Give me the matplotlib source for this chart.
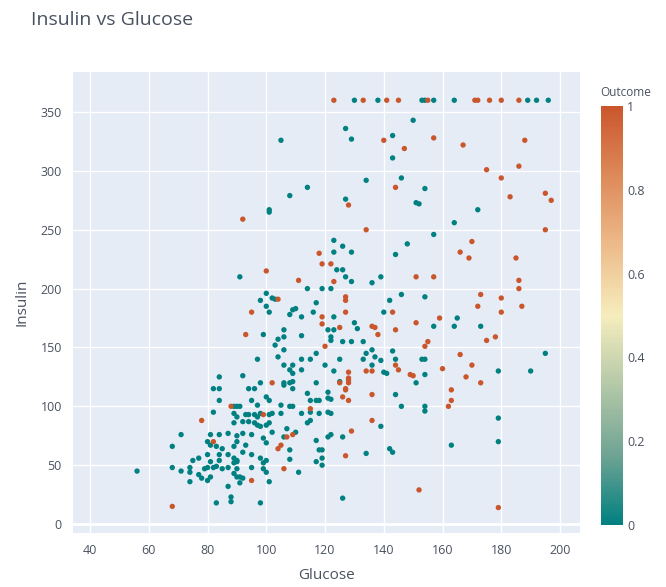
import numpy as np
import matplotlib
matplotlib.use("Agg")
import matplotlib.pyplot as plt
from matplotlib.colors import LinearSegmentedColormap, Normalize
from matplotlib.colorbar import ColorbarBase

plt.rcParams['font.family'] = ['Open Sans', 'DejaVu Sans']

# outcome 0 (glucose, insulin)
neg_pts = [
    (130, 360), (138, 360), (153, 360), (154, 360), (157, 360), (164, 360), (189, 360), (192, 360), (196, 360),
    (105, 326), (127, 336), (129, 327), (143, 330), (143, 311), (150, 343), (134, 292), (146, 294), (154, 285),
    (114, 286), (108, 279), (127, 276), (151, 273), (152, 272), (101, 267), (172, 267),
    (164, 256), (157, 246), (148, 238), (144, 229), (126, 236), (129, 231), (126, 216), (127, 210), (129, 206),
    (136, 205), (139, 210), (142, 190), (146, 195), (154, 193), (140, 180), (165, 175), (157, 168), (164, 168),
    (173, 168), (130, 171), (131, 166), (195, 145), (179, 130), (190, 130), (153, 140), (154, 140), (154, 127),
    (151, 120), (154, 100), (154, 96), (146, 100), (144, 110), (179, 90), (179, 70), (163, 67), (139, 83),
    (142, 64), (143, 61), (134, 60), (126, 22), (126, 74),
    (126, 155), (129, 155), (133, 155), (133, 140), (134, 145), (136, 135), (136, 148), (137, 142), (139, 139),
    (143, 147), (144, 140), (140, 129), (141, 128),
    (101, 265), (91, 210), (100, 196), (123, 241), (123, 231), (124, 216), (119, 200), (122, 200), (114, 200),
    (98, 190), (102, 192), (103, 191), (117, 188), (100, 185), (101, 180), (109, 182), (110, 183), (108, 178),
    (112, 176), (116, 180), (123, 176), (121, 165), (123, 165), (106, 165), (99, 161), (112, 160), (104, 157),
    (106, 159), (122, 159), (122, 156), (103, 152), (106, 148), (117, 145), (104, 142), (97, 140), (112, 140),
    (115, 140), (125, 140), (106, 135), (109, 135), (120, 135), (108, 131), (109, 128), (112, 131), (123, 130),
    (84, 125), (92, 126), (98, 120), (106, 120), (109, 121), (117, 120), (125, 121), (82, 115), (84, 115),
    (94, 115), (96, 115),
    (84, 105), (82, 95), (90, 100), (89, 94), (90, 91), (71, 76), (81, 76), (84, 76), (87, 77), (90, 75),
    (80, 70), (68, 66), (81, 67), (83, 66), (85, 64), (89, 66), (84, 59), (87, 59), (75, 54), (77, 56),
    (80, 59), (81, 53), (84, 54), (90, 54), (68, 48), (74, 48), (74, 44), (79, 47), (80, 48), (82, 48),
    (83, 49), (85, 47), (87, 48), (89, 52), (90, 47), (56, 45), (71, 45), (77, 42), (78, 39), (80, 37),
    (74, 36), (81, 40), (87, 32), (88, 23), (88, 19), (83, 18), (90, 40), (91, 35),
    (106, 118), (108, 120), (109, 115), (100, 108), (101, 105), (95, 105), (114, 111), (115, 105), (117, 105),
    (118, 105), (121, 107), (122, 106), (121, 112), (89, 100), (91, 100), (97, 101), (105, 101), (108, 100),
    (109, 100), (93, 93), (94, 93), (96, 93), (97, 91), (98, 94), (101, 93), (102, 94), (105, 94), (112, 94),
    (115, 95), (118, 94), (121, 95), (122, 94), (89, 86), (92, 87), (94, 87), (96, 86), (97, 84), (98, 83),
    (100, 84), (101, 86), (107, 81), (110, 78), (114, 86), (115, 88), (102, 78), (92, 77), (95, 76), (99, 73),
    (100, 69), (106, 74), (117, 71), (121, 74), (122, 76), (90, 70), (93, 67), (108, 63), (118, 63), (119, 63),
    (92, 61), (95, 59), (98, 56), (100, 54), (99, 52), (89, 56), (90, 53), (108, 55), (117, 53), (119, 50),
    (119, 56), (95, 48), (99, 47), (100, 44), (111, 44), (89, 43), (91, 40), (92, 39), (101, 36), (98, 18),
]

# outcome 1 (glucose, insulin)
pos_pts = [
    (123, 360), (133, 360), (141, 360), (145, 360), (155, 360), (171, 360), (172, 360), (176, 360), (180, 360),
    (186, 360),
    (140, 326), (147, 319), (157, 328), (167, 322), (188, 326), (175, 301), (186, 304), (180, 294), (144, 286),
    (128, 271), (183, 278), (195, 281), (197, 275),
    (134, 250), (195, 250), (170, 240), (166, 231), (169, 226), (185, 226), (151, 210), (157, 210), (186, 207),
    (186, 200), (187, 185), (127, 193), (127, 190), (127, 180), (173, 195), (180, 192), (172, 185), (180, 180),
    (143, 180), (159, 175), (151, 171), (136, 168), (137, 167), (138, 161), (144, 165), (155, 155), (154, 151),
    (175, 156), (178, 159), (166, 144), (170, 135), (168, 125), (173, 120), (160, 132), (149, 127), (150, 126),
    (163, 114), (163, 105), (162, 100), (136, 110), (136, 88), (129, 79), (127, 58), (152, 29), (179, 14),
    (134, 130), (136, 130), (145, 131), (144, 135), (128, 124), (128, 120), (127, 114), (126, 108), (128, 105),
    (92, 259), (100, 215), (111, 207), (118, 230), (119, 221), (122, 221), (123, 206), (104, 191), (95, 180),
    (119, 176), (119, 170), (125, 167), (93, 161), (120, 151), (128, 129), (128, 122), (102, 120), (78, 88),
    (88, 100), (82, 70), (125, 120), (127, 115), (115, 98), (99, 93), (107, 74), (109, 76), (105, 67),
    (104, 64), (106, 47), (95, 37), (68, 15),
]

glucose = np.array([p[0] for p in neg_pts] + [p[0] for p in pos_pts])
insulin = np.array([p[1] for p in neg_pts] + [p[1] for p in pos_pts])
outcome = np.array([0] * len(neg_pts) + [1] * len(pos_pts))

geyser = LinearSegmentedColormap.from_list("geyser", [
    "#008080", "#70a494", "#b4c8a8", "#f6edbd", "#edbb8a", "#de8a5a", "#ca562c"])

txt = "#4a5260"
fig = plt.figure(figsize=(6.66, 5.87), dpi=100)
ax = fig.add_axes([73 / 666, 54 / 587, 507 / 666, 461 / 587])
ax.set_facecolor("#E5ECF6")
ax.scatter(glucose, insulin, c=outcome, cmap=geyser, vmin=0, vmax=1, s=15, edgecolors="none", zorder=3)

ax.set_xlim(34.2, 206.8)
ax.set_ylim(-7.6, 384)
ax.set_xticks(range(40, 201, 20))
ax.set_yticks(range(0, 351, 50))
ax.grid(True, color="white", linewidth=1, zorder=0)
ax.axhline(0, color="white", linewidth=2, zorder=1)
ax.set_axisbelow(True)
for s in ax.spines.values():
    s.set_visible(False)
ax.tick_params(length=0, labelsize=9, labelcolor=txt, pad=8)
ax.set_xlabel("Glucose", fontsize=11, color=txt, labelpad=8)
ax.set_ylabel("Insulin", fontsize=11, color=txt, labelpad=8)

fig.text(31 / 666, 1 - 20 / 587, "Insulin vs Glucose", fontsize=14, color=txt, va="center")

cax = fig.add_axes([601 / 666, (587 - 525) / 587, 22 / 666, 419 / 587])
cb = ColorbarBase(cax, cmap=geyser, norm=Normalize(0, 1))
cb.outline.set_visible(False)
cb.set_ticks([0, 0.2, 0.4, 0.6, 0.8, 1])
cb.set_ticklabels(["0", "0.2", "0.4", "0.6", "0.8", "1"])
cax.tick_params(length=0, labelsize=9, labelcolor=txt, pad=3)
fig.text(600 / 666, 1 - 92 / 587, "Outcome", fontsize=8.5, color=txt, va="center")

fig.savefig("out.png", dpi=100, facecolor="white")
